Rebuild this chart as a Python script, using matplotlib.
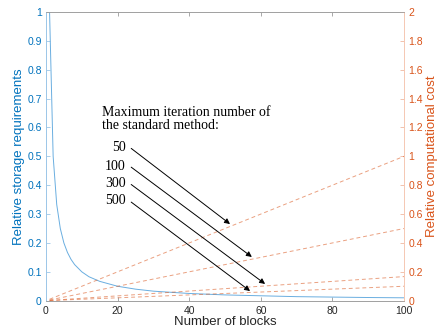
import matplotlib
matplotlib.use("Agg")
import matplotlib.pyplot as plt

# storage requirement vs number of blocks
blocks = [1, 2, 3, 4, 5, 6, 7, 8, 10, 12, 15, 20, 25, 30, 40, 50, 60, 70, 80, 90, 100]
storage = [1.0, 0.5, 0.333, 0.25, 0.2, 0.167, 0.143, 0.125, 0.1, 0.083, 0.067,
           0.05, 0.04, 0.033, 0.025, 0.02, 0.017, 0.014, 0.0125, 0.011, 0.01]

# computational cost lines, one per max iteration number
cost_blocks = [1, 100]
max_iters = ['50', '100', '300', '500']
cost_50 = [0.01, 1.0]
cost_100 = [0.005, 0.5]
cost_300 = [0.0017, 0.167]
cost_500 = [0.001, 0.1]
costs = [cost_50, cost_100, cost_300, cost_500]

# arrow start / tip points (x in blocks, y in cost units)
arrow_start_y = [1.055, 0.925, 0.805, 0.683]
arrow_tip = [(51.4, 0.531), (57.5, 0.303), (61.2, 0.116), (57.0, 0.067)]

blue = '#0072BD'
orange = '#D95319'

plt.rcParams['font.family'] = ['Liberation Sans', 'DejaVu Sans']

fig = plt.figure(figsize=(4.43, 3.32), dpi=100)
ax = fig.add_axes([0.1038, 0.0943, 0.8082, 0.8696])
ax2 = ax.twinx()

ax.plot(blocks, storage, color='#6aaee0', lw=0.7)
for c in costs:
    ax2.plot(cost_blocks, c, color=orange, lw=0.7, ls=(0, (4, 3)), alpha=0.55)

ax.set_xlim(0, 100)
ax.set_ylim(0, 1)
ax2.set_ylim(0, 2)
ax.set_xticks([0, 20, 40, 60, 80, 100])
ax.set_yticks([i / 10 for i in range(11)])
ax.set_yticklabels(['0', '0.1', '0.2', '0.3', '0.4', '0.5', '0.6', '0.7', '0.8', '0.9', '1'])
ax2.set_yticks([i / 5 for i in range(11)])
ax2.set_yticklabels(['0', '0.2', '0.4', '0.6', '0.8', '1', '1.2', '1.4', '1.6', '1.8', '2'])

ax.tick_params(axis='x', direction='in', length=3, width=0.6, colors='#262626',
               labelsize=7.5, top=True, pad=4, color='#9a9a9a')
ax.tick_params(axis='y', direction='in', length=3, width=0.6, color='#9cc6e8',
               labelcolor=blue, labelsize=7.5, pad=3)
ax2.tick_params(axis='y', direction='in', length=3, width=0.6, color='#f0b8a0',
                labelcolor=orange, labelsize=7.5, pad=3)

for a in (ax, ax2):
    a.spines['top'].set_color('#a0a0a0')
    a.spines['bottom'].set_color('#a0a0a0')
    a.spines['left'].set_color('#9cc6e8')
    a.spines['right'].set_color('#f5c8b4')
    for s in a.spines.values():
        s.set_linewidth(0.6)

ax.set_xlabel('Number of blocks', fontsize=9.5, color='#262626', labelpad=0)
ax.set_ylabel('Relative storage requirements', fontsize=9.5, color=blue, labelpad=2)
ax2.set_ylabel('Relative computational cost', fontsize=9.5, color=orange, labelpad=2)

serif = ['Liberation Serif', 'DejaVu Serif']
ax2.text(15.6, 1.307, 'Maximum iteration number of', family=serif, fontsize=10,
         va='center', ha='left')
ax2.text(15.6, 1.211, 'the standard method:', family=serif, fontsize=10,
         va='center', ha='left')
for lab, y0, tip in zip(max_iters, arrow_start_y, arrow_tip):
    ax2.text(22.3, y0 + 0.008, lab, family=serif, fontsize=10, va='center', ha='right')
    ax2.annotate('', xy=tip, xytext=(23.8, y0),
                 arrowprops=dict(arrowstyle='-|>', color='black', lw=0.7,
                                 mutation_scale=8, shrinkA=0, shrinkB=0))

fig.savefig('out.png', dpi=100)
